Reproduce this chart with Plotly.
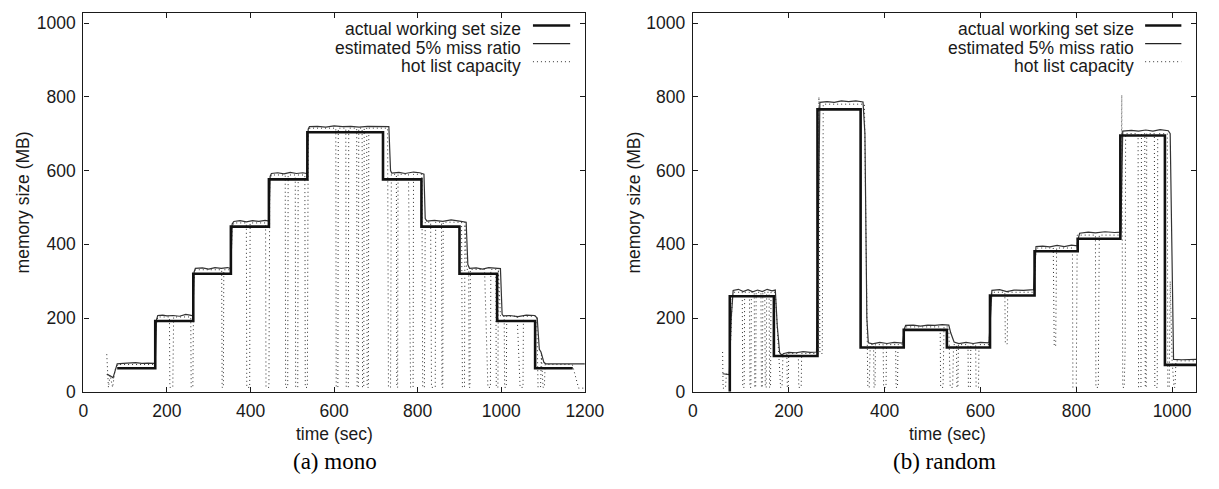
import plotly.graph_objects as go

# ---------------- data: (a) mono ----------------
t_act_a = [81, 172, 263, 353, 444, 536, 717, 809, 900, 990, 1081, 1171]
v_act_a = [64, 192, 320, 448, 576, 704, 576, 448, 320, 192, 64, 64]

t_est_a = [56, 62, 66, 71, 75, 81, 95, 110, 125, 140, 155, 172,
           175, 178, 190, 200, 215, 230, 245, 255, 262,
           265, 268, 285, 300, 315, 330, 345, 353,
           356, 360, 375, 390, 405, 420, 435, 444,
           447, 450, 465, 480, 495, 510, 525, 535,
           538, 541, 560, 580, 600, 620, 640, 660, 680, 700, 715, 731,
           735, 738, 755, 770, 790, 805, 815,
           818, 822, 840, 860, 880, 900, 916,
           920, 924, 940, 955, 970, 985, 998,
           1002, 1005, 1020, 1040, 1060, 1080, 1086,
           1091, 1095, 1102, 1106, 1150, 1200]
v_est_a = [48, 45, 42, 38, 55, 76, 77, 78, 79, 77, 78, 77,
           195, 207, 208, 206, 207, 205, 210, 208, 206,
           325, 335, 336, 333, 337, 335, 337, 334,
           455, 462, 464, 461, 464, 462, 465, 463,
           585, 592, 594, 591, 595, 592, 594, 592,
           712, 719, 720, 718, 721, 719, 720, 718, 720, 719, 720, 719,
           600, 593, 595, 592, 596, 594, 590,
           470, 463, 465, 462, 466, 463, 460,
           345, 335, 336, 333, 337, 335, 334,
           210, 206, 207, 204, 208, 207, 200,
           115, 108, 80, 76, 76, 76]

t_hot_a = [56, 60, 64, 70, 76, 82, 170, 174, 178,
           206, 207, 214, 216, 257, 258, 262, 264, 268,
           331, 332, 335, 336, 353, 356, 360,
           390, 391, 398, 399, 436, 437, 444, 446, 450,
           483, 484, 489, 490, 507, 508, 513, 514, 530, 531, 536, 538, 542,
           604, 605, 609, 610, 628, 629, 634, 635, 654, 655, 658, 659,
           667, 668, 671, 672, 678, 679, 682, 683, 728, 730, 735, 737,
           749, 750, 752, 753, 778, 783, 789, 790, 810, 812, 816, 818,
           831, 833, 842, 843, 857, 858, 860, 861, 905, 907, 912, 913, 917,
           922, 923, 925, 926, 960, 968, 974, 975, 987, 988, 992, 993, 998,
           1007, 1008, 1012, 1013, 1038, 1045, 1052, 1053, 1085, 1088, 1094,
           1096, 1100, 1103, 1105, 1170, 1185, 1200]
v_hot_a = [102, 12, 45, 12, 60, 74, 74, 180, 203,
           203, 12, 12, 203, 203, 12, 12, 300, 331,
           331, 12, 12, 331, 331, 440, 458,
           458, 12, 12, 458, 458, 12, 12, 570, 588,
           588, 12, 12, 588, 588, 12, 12, 588, 588, 12, 12, 700, 715,
           715, 12, 12, 715, 715, 12, 12, 715, 715, 12, 12, 715,
           715, 12, 12, 715, 715, 12, 12, 715, 715, 12, 12, 590,
           590, 12, 12, 590, 590, 12, 12, 590, 590, 12, 12, 460,
           460, 12, 12, 460, 460, 12, 12, 460, 460, 12, 12, 460, 332,
           332, 12, 12, 332, 332, 12, 12, 332, 332, 12, 12, 332, 205,
           205, 12, 12, 205, 205, 12, 12, 205, 205, 12, 12,
           100, 12, 12, 74, 74, 10, 10]

# ---------------- data: (b) random ----------------
t_act_b = [77, 77, 169, 260, 350, 440, 530, 620, 713, 803, 892, 985, 1050]
v_act_b = [0, 259, 97, 766, 120, 168, 120, 261, 381, 415, 695, 73, 73]

t_est_b = [62, 70, 76, 80, 84, 95, 105, 115, 125, 135, 145, 155, 165, 172,
           176, 181, 185, 190, 200, 215, 230, 245, 258,
           262, 265, 280, 295, 310, 325, 340, 355,
           359, 363, 366, 375, 390, 405, 420, 438,
           441, 444, 460, 475, 490, 505, 520, 534,
           538, 545, 555, 570, 585, 600, 618,
           621, 624, 640, 655, 670, 690, 711,
           713, 716, 730, 745, 760, 775, 790, 802,
           804, 807, 825, 840, 860, 880, 893,
           895, 897, 915, 930, 945, 960, 975, 992,
           996, 1000, 1003, 1020, 1050]
v_est_b = [49, 48, 47, 200, 275, 278, 272, 277, 271, 276, 272, 278, 274, 276,
           180, 106, 100, 104, 107, 106, 109, 107, 108,
           500, 785, 787, 785, 789, 787, 789, 786,
           700, 200, 133, 130, 134, 131, 134, 132,
           170, 180, 181, 178, 181, 180, 182, 181,
           160, 135, 131, 134, 131, 134, 133,
           220, 275, 277, 272, 276, 275, 277,
           330, 394, 395, 393, 397, 394, 398, 396,
           415, 430, 433, 431, 434, 432, 433,
           600, 707, 709, 707, 710, 707, 711, 708,
           700, 300, 88, 87, 88]

t_hot_b = [62, 63, 68, 70, 76, 82, 86,
           103, 104, 107, 108, 118, 119, 121, 122, 128, 129, 131, 132,
           142, 143, 145, 146, 150, 151, 153, 154, 159, 160, 162, 163,
           172, 183, 186, 188, 196, 197, 199, 200, 220, 221, 226, 227,
           262, 263, 265, 270, 272, 358, 363, 365, 368, 370,
           377, 378, 380, 381, 397, 398, 403, 404, 423, 424, 427, 428,
           438, 443, 516, 517, 522, 524, 534, 537, 542, 544,
           550, 551, 553, 554, 574, 575, 579, 580, 590, 591, 596, 597,
           618, 623, 651, 652, 656, 657, 712, 716, 752, 754, 757, 759,
           792, 793, 800, 802, 840, 841, 846, 848, 893, 895, 897, 900, 902, 903,
           929, 930, 935, 936, 943, 944, 946, 947, 963, 964, 969, 970,
           990, 991, 994, 996, 1000, 1004, 1006, 1008, 1050]
v_hot_b = [108, 10, 10, 50, 45, 250, 270,
           270, 12, 12, 270, 270, 12, 12, 270, 270, 12, 12, 270,
           270, 12, 12, 270, 270, 12, 12, 270, 270, 12, 12, 270,
           270, 12, 12, 104, 104, 12, 12, 104, 104, 12, 12, 104,
           104, 800, 104, 104, 780, 780, 100, 12, 12, 128,
           128, 12, 12, 128, 128, 12, 12, 128, 128, 12, 12, 128,
           128, 176, 176, 12, 12, 176, 176, 12, 12, 128,
           128, 12, 12, 128, 128, 12, 12, 128, 128, 12, 12, 128,
           128, 270, 270, 130, 130, 270, 270, 390, 390, 124, 124, 390,
           390, 12, 12, 425, 425, 12, 12, 425, 425, 805, 12, 12, 115, 700,
           700, 12, 12, 700, 700, 12, 12, 700, 700, 12, 12, 700,
           700, 12, 12, 300, 85, 12, 12, 84, 84]

x_ticks_a = [0, 200, 400, 600, 800, 1000, 1200]
x_ticks_b = [0, 200, 400, 600, 800, 1000]
y_ticks = [0, 200, 400, 600, 800, 1000]

legend_labels = ["actual working set size", "estimated 5% miss ratio", "hot list capacity"]
x_title = "time (sec)"
y_title = "memory size (MB)"
captions = ["(a) mono", "(b) random"]

# ---------------- figure ----------------
W, H = 1219, 489
def px(x):
    return x / W
def py(y):
    return 1 - y / H

SANS = "Liberation Sans, Arial, Helvetica, sans-serif"
SERIF = "Liberation Serif, Times New Roman, serif"
INK = "#1a1a1a"

fig = go.Figure()

def add_panel(xa, ya, th, vh, te, ve, ta, va):
    fig.add_trace(go.Scatter(x=th, y=vh, mode="lines", xaxis=xa, yaxis=ya,
                             line=dict(color="#2e2e2e", width=1, dash="1px,3px"),
                             hoverinfo="skip", showlegend=False))
    fig.add_trace(go.Scatter(x=te, y=ve, mode="lines", xaxis=xa, yaxis=ya,
                             line=dict(color="#333333", width=1.2),
                             hoverinfo="skip", showlegend=False))
    fig.add_trace(go.Scatter(x=ta, y=va, mode="lines", xaxis=xa, yaxis=ya,
                             line=dict(color="#111111", width=2.6, shape="hv"),
                             hoverinfo="skip", showlegend=False))

add_panel("x", "y", t_hot_a, v_hot_a, t_est_a, v_est_a, t_act_a, v_act_a)
add_panel("x2", "y2", t_hot_b, v_hot_b, t_est_b, v_est_b, t_act_b, v_act_b)

ydom = [py(400), py(13)]
axis_common = dict(showgrid=False, zeroline=False, showline=True, linecolor=INK,
                   linewidth=1.4, mirror="ticks", ticks="inside", ticklen=5,
                   tickwidth=1, tickcolor=INK,
                   tickfont=dict(family=SANS, size=17.5, color=INK))

fig.update_layout(
    width=W, height=H, margin=dict(l=0, r=0, t=0, b=0),
    paper_bgcolor="white", plot_bgcolor="white", showlegend=False,
    xaxis=dict(domain=[px(80), px(592)], range=[0, 1200], tickvals=x_ticks_a,
               anchor="y", ticklabelstandoff=3, **axis_common),
    yaxis=dict(domain=ydom, range=[0, 1028], tickvals=y_ticks, anchor="x",
               ticklabelstandoff=3, **axis_common),
    xaxis2=dict(domain=[px(702.3), px(1216)], range=[0, 1050], tickvals=x_ticks_b,
                anchor="y2", ticklabelstandoff=3, **axis_common),
    yaxis2=dict(domain=ydom, range=[0, 1028], tickvals=y_ticks, anchor="x2",
                ticklabelstandoff=3, **axis_common),
)

annotations = []
shapes = []
panels = [
    dict(text_right=529, s0=539, s1=577, ytitle_x=18, xtitle_x=336, cap_x=337),
    dict(text_right=1155, s0=1164, s1=1201, ytitle_x=642, xtitle_x=962, cap_x=959),
]
row_text_y = [30, 48.5, 67]
row_line_y = [26, 44.5, 63]
styles = [dict(color="#111111", width=2.6), dict(color="#222222", width=1.1),
          dict(color="#333333", width=1, dash="1px,3px")]

for i, p in enumerate(panels):
    for j, lab in enumerate(legend_labels):
        annotations.append(dict(text=lab, x=px(p["text_right"]), y=py(row_text_y[j]),
                                xref="paper", yref="paper", xanchor="right",
                                yanchor="middle", showarrow=False,
                                font=dict(family=SANS, size=17.5, color=INK)))
        shapes.append(dict(type="line", xref="paper", yref="paper",
                           x0=px(p["s0"]), x1=px(p["s1"]),
                           y0=py(row_line_y[j]), y1=py(row_line_y[j]),
                           line=styles[j]))
    annotations.append(dict(text=y_title, x=px(p["ytitle_x"]), y=py(207),
                            xref="paper", yref="paper", textangle=-90,
                            xanchor="center", yanchor="middle", showarrow=False,
                            font=dict(family=SANS, size=17.5, color=INK)))
    annotations.append(dict(text=x_title, x=px(p["xtitle_x"]), y=py(443),
                            xref="paper", yref="paper", xanchor="center",
                            yanchor="middle", showarrow=False,
                            font=dict(family=SANS, size=17.5, color=INK)))
    annotations.append(dict(text=captions[i], x=px(p["cap_x"]), y=py(471),
                            xref="paper", yref="paper", xanchor="center",
                            yanchor="middle", showarrow=False,
                            font=dict(family=SERIF, size=23, color="#000")))

fig.update_layout(annotations=annotations, shapes=shapes)
fig.write_html("out.html")
